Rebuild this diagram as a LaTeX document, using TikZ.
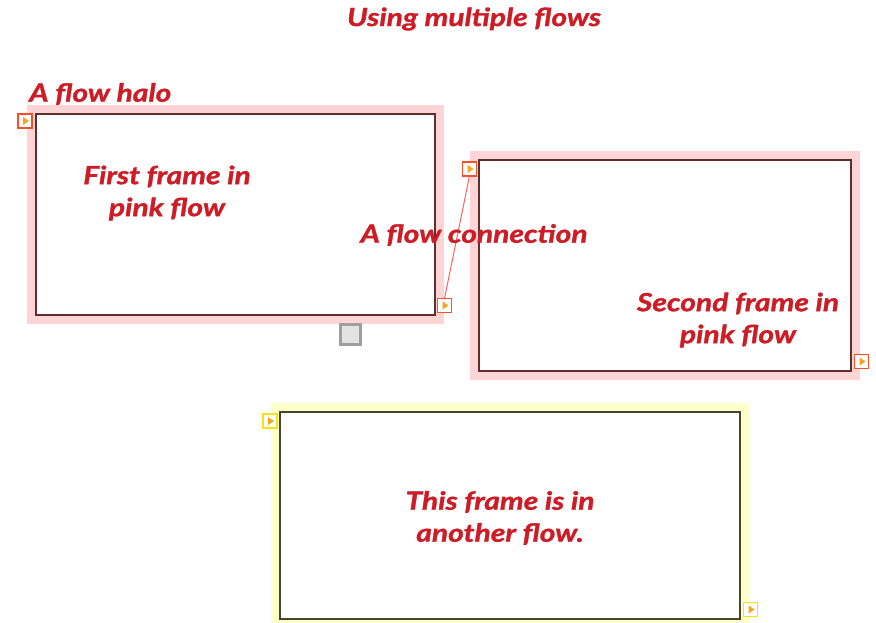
\documentclass[tikz,border=0pt]{standalone}
\usepackage{fontspec}
\setmainfont{Lato}
\newfontfamily\lblfont{Lato}[FakeStretch=1.2, BoldItalicFeatures={FakeBold=1.3}]
\usetikzlibrary{positioning,calc,fit,backgrounds}
\definecolor{cLabel}{RGB}{205,28,38}
\definecolor{cHaloP}{RGB}{255,212,212}
\definecolor{cHaloY}{RGB}{255,255,204}
\definecolor{cFrameP}{RGB}{95,45,45}
\definecolor{cFrameY}{RGB}{70,70,45}
\definecolor{cPortP}{RGB}{250,80,40}
\definecolor{cPortY}{RGB}{250,225,20}
\definecolor{cTri}{RGB}{245,165,30}
\definecolor{cLink}{RGB}{255,95,95}

\begin{document}
\begin{tikzpicture}[
  x=1pt, y=-1pt,
  lbl/.style={font=\lblfont\fontsize{25}{32}\selectfont\bfseries\itshape, text=cLabel,
    align=center, inner sep=0pt},
  frame/.style 2 args={draw=#1, line width=1.6pt, fill=white, outer sep=0pt,
    inner sep=0pt, minimum width=#2},
  halo/.style={fill=#1, draw=none, inner sep=9pt},
  port/.style={draw=#1, line width=1.7pt, fill=white, minimum size=14pt,
    inner sep=0pt, outer sep=0pt,
    path picture={\fill[cTri] ($(path picture bounding box.center)+(-2,-4)$)
      -- ++(6,4) -- ++(-6,4) -- cycle;}},
  link/.style={draw=cLink, line width=1pt},
]
\useasboundingbox (0,0) rectangle (876,623);

% Pink flow frames
\node[frame={cFrameP}{399pt}, minimum height=201pt] (frameA) at (235.5,214.5) {};
\node[frame={cFrameP}{372pt}, minimum height=211pt] (frameB) at (665,265.5) {};
% Other flow frame
\node[frame={cFrameY}{460pt}, minimum height=207pt] (frameC) at (510,515.5) {};

% Flow halos
\begin{scope}[on background layer]
  \node[fit=(frameA), halo=cHaloP] (haloA) {};
  \node[fit=(frameB), halo=cHaloP] (haloB) {};
  \node[fit=(frameC), halo=cHaloY] (haloC) {};
\end{scope}

% Ports
\node[port=cPortP] (inA) at (25,121) {};
\node[port=cPortP] (outA) at (444.5,305.5) {};
\node[port=cPortP] (inB) at (469.5,169) {};
\node[port=cPortP] (outB) at (861.5,361.5) {};
\node[port=cPortY] (inC) at (270,421) {};
\node[port=cPortY] (outC) at (750.5,609.5) {};

% Grey handle below first frame
\node[draw=black!38, line width=3pt, fill=black!11, minimum size=20pt,
      inner sep=0pt] (handle) at (350.5,334) {};

% Flow connection
\draw[link] (outA.north) -- (inB.south);

% Labels
\node[lbl] (title) at (474,19) {Using multiple flows};
\node[lbl, anchor=west] (haloLbl) at (29,94) {A flow halo};
\node[lbl] (lblA) at (167,193) {First frame in\\pink flow};
\node[lbl] (linkLbl) at (474,235) {A flow connection};
\node[lbl] (lblB) at (738,320) {Second frame in\\pink flow};
\node[lbl] (lblC) at (500,518) {This frame is in\\another flow.};

\end{tikzpicture}
\end{document}
